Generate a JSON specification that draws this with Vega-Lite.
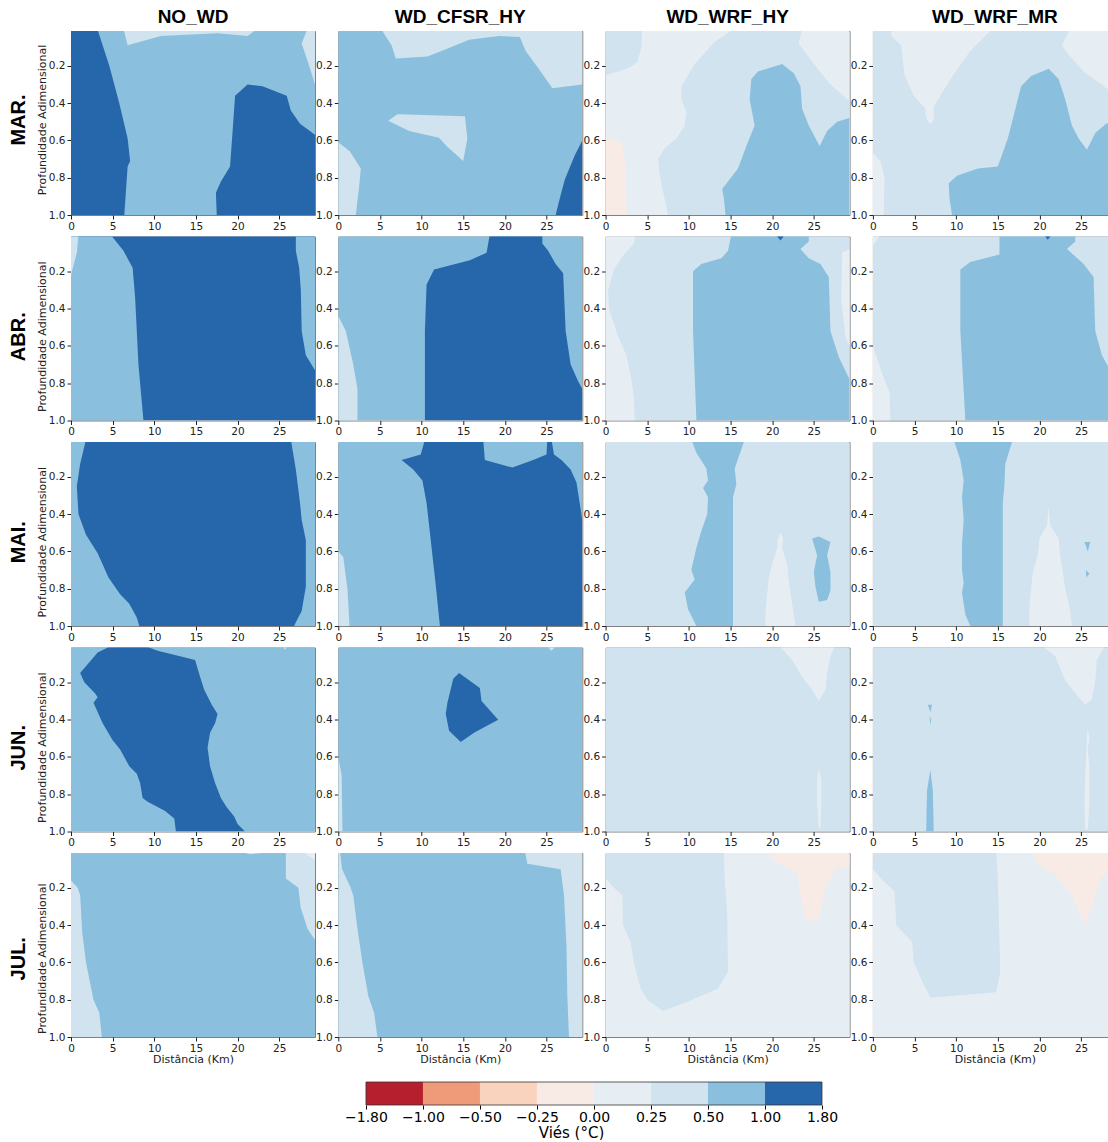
{
"$schema":"https://vega.github.io/schema/vega-lite/v6.json",
"background":"white",
"padding":{"left":8,"top":8,"right":0,"bottom":0},
"config":{"font":"DejaVu Sans","view":{"stroke":"#808080","strokeWidth":1},
"axis":{"grid":false,"domain":false,"tickColor":"#222","tickSize":4,"labelFontSize":10.5,"labelColor":"#222","labelFont":"DejaVu Sans","labelPadding":2,"labelFlush":false,"labelOverlap":false,"titleFont":"DejaVu Sans","titleFontWeight":"normal","titleFontSize":11,"titleColor":"#222","titlePadding":0}},
"datasets":{"d":[
{"m":"MAR.","p":"NO_WD","id":"bg","c":"p50","z":0,"x":0,"y":0},{"m":"MAR.","p":"NO_WD","id":"bg","c":"p50","z":0,"x":29.3,"y":0},{"m":"MAR.","p":"NO_WD","id":"bg","c":"p50","z":0,"x":29.3,"y":1},{"m":"MAR.","p":"NO_WD","id":"bg","c":"p50","z":0,"x":0,"y":1},
{"m":"MAR.","p":"NO_WD","id":"a","c":"p100","z":1,"x":0,"y":0},{"m":"MAR.","p":"NO_WD","id":"a","c":"p100","z":1,"x":3.15,"y":0},{"m":"MAR.","p":"NO_WD","id":"a","c":"p100","z":1,"x":4.6,"y":0.2},{"m":"MAR.","p":"NO_WD","id":"a","c":"p100","z":1,"x":5.8,"y":0.4},{"m":"MAR.","p":"NO_WD","id":"a","c":"p100","z":1,"x":6.8,"y":0.59},{"m":"MAR.","p":"NO_WD","id":"a","c":"p100","z":1,"x":7.1,"y":0.71},{"m":"MAR.","p":"NO_WD","id":"a","c":"p100","z":1,"x":6.8,"y":0.74},{"m":"MAR.","p":"NO_WD","id":"a","c":"p100","z":1,"x":6.4,"y":1},{"m":"MAR.","p":"NO_WD","id":"a","c":"p100","z":1,"x":0,"y":1},
{"m":"MAR.","p":"NO_WD","id":"b","c":"p100","z":1,"x":21.2,"y":0.3},{"m":"MAR.","p":"NO_WD","id":"b","c":"p100","z":1,"x":23.0,"y":0.31},{"m":"MAR.","p":"NO_WD","id":"b","c":"p100","z":1,"x":25.9,"y":0.36},{"m":"MAR.","p":"NO_WD","id":"b","c":"p100","z":1,"x":26.4,"y":0.44},{"m":"MAR.","p":"NO_WD","id":"b","c":"p100","z":1,"x":27.5,"y":0.51},{"m":"MAR.","p":"NO_WD","id":"b","c":"p100","z":1,"x":29.3,"y":0.57},{"m":"MAR.","p":"NO_WD","id":"b","c":"p100","z":1,"x":29.3,"y":1},{"m":"MAR.","p":"NO_WD","id":"b","c":"p100","z":1,"x":17.5,"y":1},{"m":"MAR.","p":"NO_WD","id":"b","c":"p100","z":1,"x":17.4,"y":0.88},{"m":"MAR.","p":"NO_WD","id":"b","c":"p100","z":1,"x":18.0,"y":0.82},{"m":"MAR.","p":"NO_WD","id":"b","c":"p100","z":1,"x":19.1,"y":0.74},{"m":"MAR.","p":"NO_WD","id":"b","c":"p100","z":1,"x":19.5,"y":0.49},{"m":"MAR.","p":"NO_WD","id":"b","c":"p100","z":1,"x":19.7,"y":0.36},
{"m":"MAR.","p":"NO_WD","id":"c","c":"p25","z":1,"x":6.3,"y":0},{"m":"MAR.","p":"NO_WD","id":"c","c":"p25","z":1,"x":22.4,"y":0},{"m":"MAR.","p":"NO_WD","id":"c","c":"p25","z":1,"x":21.2,"y":0.04},{"m":"MAR.","p":"NO_WD","id":"c","c":"p25","z":1,"x":17.6,"y":0.025},{"m":"MAR.","p":"NO_WD","id":"c","c":"p25","z":1,"x":10.8,"y":0.04},{"m":"MAR.","p":"NO_WD","id":"c","c":"p25","z":1,"x":6.8,"y":0.09},
{"m":"MAR.","p":"NO_WD","id":"d","c":"p25","z":1,"x":28.4,"y":0},{"m":"MAR.","p":"NO_WD","id":"d","c":"p25","z":1,"x":29.3,"y":0},{"m":"MAR.","p":"NO_WD","id":"d","c":"p25","z":1,"x":29.3,"y":0.3},{"m":"MAR.","p":"NO_WD","id":"d","c":"p25","z":1,"x":28.6,"y":0.2},{"m":"MAR.","p":"NO_WD","id":"d","c":"p25","z":1,"x":27.7,"y":0.08},

{"m":"MAR.","p":"WD_CFSR_HY","id":"bg","c":"p50","z":0,"x":0,"y":0},{"m":"MAR.","p":"WD_CFSR_HY","id":"bg","c":"p50","z":0,"x":29.3,"y":0},{"m":"MAR.","p":"WD_CFSR_HY","id":"bg","c":"p50","z":0,"x":29.3,"y":1},{"m":"MAR.","p":"WD_CFSR_HY","id":"bg","c":"p50","z":0,"x":0,"y":1},
{"m":"MAR.","p":"WD_CFSR_HY","id":"a","c":"p25","z":1,"x":5.1,"y":0},{"m":"MAR.","p":"WD_CFSR_HY","id":"a","c":"p25","z":1,"x":29.3,"y":0},{"m":"MAR.","p":"WD_CFSR_HY","id":"a","c":"p25","z":1,"x":29.3,"y":0.3},{"m":"MAR.","p":"WD_CFSR_HY","id":"a","c":"p25","z":1,"x":25.7,"y":0.32},{"m":"MAR.","p":"WD_CFSR_HY","id":"a","c":"p25","z":1,"x":24.3,"y":0.23},{"m":"MAR.","p":"WD_CFSR_HY","id":"a","c":"p25","z":1,"x":22.5,"y":0.12},{"m":"MAR.","p":"WD_CFSR_HY","id":"a","c":"p25","z":1,"x":21.8,"y":0.045},{"m":"MAR.","p":"WD_CFSR_HY","id":"a","c":"p25","z":1,"x":19.3,"y":0.04},{"m":"MAR.","p":"WD_CFSR_HY","id":"a","c":"p25","z":1,"x":15.7,"y":0.06},{"m":"MAR.","p":"WD_CFSR_HY","id":"a","c":"p25","z":1,"x":13.0,"y":0.11},{"m":"MAR.","p":"WD_CFSR_HY","id":"a","c":"p25","z":1,"x":10.7,"y":0.15},{"m":"MAR.","p":"WD_CFSR_HY","id":"a","c":"p25","z":1,"x":6.9,"y":0.16},{"m":"MAR.","p":"WD_CFSR_HY","id":"a","c":"p25","z":1,"x":6.4,"y":0.09},
{"m":"MAR.","p":"WD_CFSR_HY","id":"b","c":"p25","z":1,"x":6.0,"y":0.495},{"m":"MAR.","p":"WD_CFSR_HY","id":"b","c":"p25","z":1,"x":7.1,"y":0.46},{"m":"MAR.","p":"WD_CFSR_HY","id":"b","c":"p25","z":1,"x":15.2,"y":0.47},{"m":"MAR.","p":"WD_CFSR_HY","id":"b","c":"p25","z":1,"x":15.5,"y":0.59},{"m":"MAR.","p":"WD_CFSR_HY","id":"b","c":"p25","z":1,"x":15.0,"y":0.71},{"m":"MAR.","p":"WD_CFSR_HY","id":"b","c":"p25","z":1,"x":13.0,"y":0.63},{"m":"MAR.","p":"WD_CFSR_HY","id":"b","c":"p25","z":1,"x":12.1,"y":0.585},{"m":"MAR.","p":"WD_CFSR_HY","id":"b","c":"p25","z":1,"x":8.5,"y":0.55},
{"m":"MAR.","p":"WD_CFSR_HY","id":"c","c":"p25","z":1,"x":0,"y":0.61},{"m":"MAR.","p":"WD_CFSR_HY","id":"c","c":"p25","z":1,"x":1.4,"y":0.66},{"m":"MAR.","p":"WD_CFSR_HY","id":"c","c":"p25","z":1,"x":2.7,"y":0.75},{"m":"MAR.","p":"WD_CFSR_HY","id":"c","c":"p25","z":1,"x":2.5,"y":0.85},{"m":"MAR.","p":"WD_CFSR_HY","id":"c","c":"p25","z":1,"x":2.1,"y":1},{"m":"MAR.","p":"WD_CFSR_HY","id":"c","c":"p25","z":1,"x":0,"y":1},
{"m":"MAR.","p":"WD_CFSR_HY","id":"d","c":"p100","z":1,"x":29.3,"y":0.6},{"m":"MAR.","p":"WD_CFSR_HY","id":"d","c":"p100","z":1,"x":28.4,"y":0.68},{"m":"MAR.","p":"WD_CFSR_HY","id":"d","c":"p100","z":1,"x":27.2,"y":0.81},{"m":"MAR.","p":"WD_CFSR_HY","id":"d","c":"p100","z":1,"x":26.6,"y":0.91},{"m":"MAR.","p":"WD_CFSR_HY","id":"d","c":"p100","z":1,"x":26.1,"y":1},{"m":"MAR.","p":"WD_CFSR_HY","id":"d","c":"p100","z":1,"x":29.3,"y":1},

{"m":"MAR.","p":"WD_WRF_HY","id":"bg","c":"p0","z":0,"x":0,"y":0},{"m":"MAR.","p":"WD_WRF_HY","id":"bg","c":"p0","z":0,"x":29.3,"y":0},{"m":"MAR.","p":"WD_WRF_HY","id":"bg","c":"p0","z":0,"x":29.3,"y":1},{"m":"MAR.","p":"WD_WRF_HY","id":"bg","c":"p0","z":0,"x":0,"y":1},
{"m":"MAR.","p":"WD_WRF_HY","id":"a","c":"p25","z":1,"x":0,"y":0},{"m":"MAR.","p":"WD_WRF_HY","id":"a","c":"p25","z":1,"x":4.4,"y":0},{"m":"MAR.","p":"WD_WRF_HY","id":"a","c":"p25","z":1,"x":4.3,"y":0.1},{"m":"MAR.","p":"WD_WRF_HY","id":"a","c":"p25","z":1,"x":3.8,"y":0.18},{"m":"MAR.","p":"WD_WRF_HY","id":"a","c":"p25","z":1,"x":2.8,"y":0.21},{"m":"MAR.","p":"WD_WRF_HY","id":"a","c":"p25","z":1,"x":1.5,"y":0.23},{"m":"MAR.","p":"WD_WRF_HY","id":"a","c":"p25","z":1,"x":0,"y":0.25},
{"m":"MAR.","p":"WD_WRF_HY","id":"b","c":"p25","z":1,"x":15.5,"y":0},{"m":"MAR.","p":"WD_WRF_HY","id":"b","c":"p25","z":1,"x":23.6,"y":0},{"m":"MAR.","p":"WD_WRF_HY","id":"b","c":"p25","z":1,"x":23.2,"y":0.08},{"m":"MAR.","p":"WD_WRF_HY","id":"b","c":"p25","z":1,"x":25.2,"y":0.2},{"m":"MAR.","p":"WD_WRF_HY","id":"b","c":"p25","z":1,"x":26.8,"y":0.29},{"m":"MAR.","p":"WD_WRF_HY","id":"b","c":"p25","z":1,"x":29.3,"y":0.39},{"m":"MAR.","p":"WD_WRF_HY","id":"b","c":"p25","z":1,"x":29.3,"y":1},{"m":"MAR.","p":"WD_WRF_HY","id":"b","c":"p25","z":1,"x":7.5,"y":1},{"m":"MAR.","p":"WD_WRF_HY","id":"b","c":"p25","z":1,"x":6.5,"y":0.79},{"m":"MAR.","p":"WD_WRF_HY","id":"b","c":"p25","z":1,"x":6.3,"y":0.7},{"m":"MAR.","p":"WD_WRF_HY","id":"b","c":"p25","z":1,"x":7.1,"y":0.64},{"m":"MAR.","p":"WD_WRF_HY","id":"b","c":"p25","z":1,"x":8.5,"y":0.59},{"m":"MAR.","p":"WD_WRF_HY","id":"b","c":"p25","z":1,"x":9.5,"y":0.52},{"m":"MAR.","p":"WD_WRF_HY","id":"b","c":"p25","z":1,"x":9.7,"y":0.45},{"m":"MAR.","p":"WD_WRF_HY","id":"b","c":"p25","z":1,"x":9.1,"y":0.38},{"m":"MAR.","p":"WD_WRF_HY","id":"b","c":"p25","z":1,"x":9.1,"y":0.31},{"m":"MAR.","p":"WD_WRF_HY","id":"b","c":"p25","z":1,"x":10.7,"y":0.19},{"m":"MAR.","p":"WD_WRF_HY","id":"b","c":"p25","z":1,"x":13.1,"y":0.07},
{"m":"MAR.","p":"WD_WRF_HY","id":"c","c":"n25","z":1,"x":0,"y":0.58},{"m":"MAR.","p":"WD_WRF_HY","id":"c","c":"n25","z":1,"x":1.0,"y":0.59},{"m":"MAR.","p":"WD_WRF_HY","id":"c","c":"n25","z":1,"x":1.9,"y":0.62},{"m":"MAR.","p":"WD_WRF_HY","id":"c","c":"n25","z":1,"x":2.4,"y":0.7},{"m":"MAR.","p":"WD_WRF_HY","id":"c","c":"n25","z":1,"x":2.5,"y":1},{"m":"MAR.","p":"WD_WRF_HY","id":"c","c":"n25","z":1,"x":0,"y":1},
{"m":"MAR.","p":"WD_WRF_HY","id":"d","c":"p50","z":2,"x":21.2,"y":0.19},{"m":"MAR.","p":"WD_WRF_HY","id":"d","c":"p50","z":2,"x":22.6,"y":0.24},{"m":"MAR.","p":"WD_WRF_HY","id":"d","c":"p50","z":2,"x":23.4,"y":0.31},{"m":"MAR.","p":"WD_WRF_HY","id":"d","c":"p50","z":2,"x":23.6,"y":0.43},{"m":"MAR.","p":"WD_WRF_HY","id":"d","c":"p50","z":2,"x":24.4,"y":0.52},{"m":"MAR.","p":"WD_WRF_HY","id":"d","c":"p50","z":2,"x":25.7,"y":0.63},{"m":"MAR.","p":"WD_WRF_HY","id":"d","c":"p50","z":2,"x":26.6,"y":0.55},{"m":"MAR.","p":"WD_WRF_HY","id":"d","c":"p50","z":2,"x":27.8,"y":0.5},{"m":"MAR.","p":"WD_WRF_HY","id":"d","c":"p50","z":2,"x":29.3,"y":0.48},{"m":"MAR.","p":"WD_WRF_HY","id":"d","c":"p50","z":2,"x":29.3,"y":1},{"m":"MAR.","p":"WD_WRF_HY","id":"d","c":"p50","z":2,"x":14.4,"y":1},{"m":"MAR.","p":"WD_WRF_HY","id":"d","c":"p50","z":2,"x":14.2,"y":0.91},{"m":"MAR.","p":"WD_WRF_HY","id":"d","c":"p50","z":2,"x":14.0,"y":0.86},{"m":"MAR.","p":"WD_WRF_HY","id":"d","c":"p50","z":2,"x":14.7,"y":0.82},{"m":"MAR.","p":"WD_WRF_HY","id":"d","c":"p50","z":2,"x":15.9,"y":0.75},{"m":"MAR.","p":"WD_WRF_HY","id":"d","c":"p50","z":2,"x":16.9,"y":0.63},{"m":"MAR.","p":"WD_WRF_HY","id":"d","c":"p50","z":2,"x":17.9,"y":0.52},{"m":"MAR.","p":"WD_WRF_HY","id":"d","c":"p50","z":2,"x":17.3,"y":0.38},{"m":"MAR.","p":"WD_WRF_HY","id":"d","c":"p50","z":2,"x":17.5,"y":0.27},{"m":"MAR.","p":"WD_WRF_HY","id":"d","c":"p50","z":2,"x":18.3,"y":0.23},

{"m":"MAR.","p":"WD_WRF_MR","id":"bg","c":"p25","z":0,"x":0,"y":0},{"m":"MAR.","p":"WD_WRF_MR","id":"bg","c":"p25","z":0,"x":29.3,"y":0},{"m":"MAR.","p":"WD_WRF_MR","id":"bg","c":"p25","z":0,"x":29.3,"y":1},{"m":"MAR.","p":"WD_WRF_MR","id":"bg","c":"p25","z":0,"x":0,"y":1},
{"m":"MAR.","p":"WD_WRF_MR","id":"a","c":"p0","z":1,"x":2.2,"y":0},{"m":"MAR.","p":"WD_WRF_MR","id":"a","c":"p0","z":1,"x":14.4,"y":0},{"m":"MAR.","p":"WD_WRF_MR","id":"a","c":"p0","z":1,"x":11.7,"y":0.12},{"m":"MAR.","p":"WD_WRF_MR","id":"a","c":"p0","z":1,"x":10.1,"y":0.22},{"m":"MAR.","p":"WD_WRF_MR","id":"a","c":"p0","z":1,"x":8.5,"y":0.33},{"m":"MAR.","p":"WD_WRF_MR","id":"a","c":"p0","z":1,"x":7.3,"y":0.42},{"m":"MAR.","p":"WD_WRF_MR","id":"a","c":"p0","z":1,"x":7.3,"y":0.49},{"m":"MAR.","p":"WD_WRF_MR","id":"a","c":"p0","z":1,"x":6.9,"y":0.51},{"m":"MAR.","p":"WD_WRF_MR","id":"a","c":"p0","z":1,"x":6.6,"y":0.5},{"m":"MAR.","p":"WD_WRF_MR","id":"a","c":"p0","z":1,"x":6.3,"y":0.46},{"m":"MAR.","p":"WD_WRF_MR","id":"a","c":"p0","z":1,"x":6.3,"y":0.43},{"m":"MAR.","p":"WD_WRF_MR","id":"a","c":"p0","z":1,"x":4.9,"y":0.36},{"m":"MAR.","p":"WD_WRF_MR","id":"a","c":"p0","z":1,"x":3.8,"y":0.25},{"m":"MAR.","p":"WD_WRF_MR","id":"a","c":"p0","z":1,"x":3.4,"y":0.09},{"m":"MAR.","p":"WD_WRF_MR","id":"a","c":"p0","z":1,"x":2.2,"y":0.04},
{"m":"MAR.","p":"WD_WRF_MR","id":"b","c":"p0","z":1,"x":23.6,"y":0},{"m":"MAR.","p":"WD_WRF_MR","id":"b","c":"p0","z":1,"x":29.3,"y":0},{"m":"MAR.","p":"WD_WRF_MR","id":"b","c":"p0","z":1,"x":29.3,"y":0.37},{"m":"MAR.","p":"WD_WRF_MR","id":"b","c":"p0","z":1,"x":27.5,"y":0.3},{"m":"MAR.","p":"WD_WRF_MR","id":"b","c":"p0","z":1,"x":25.5,"y":0.24},{"m":"MAR.","p":"WD_WRF_MR","id":"b","c":"p0","z":1,"x":23.5,"y":0.14},{"m":"MAR.","p":"WD_WRF_MR","id":"b","c":"p0","z":1,"x":22.7,"y":0.09},{"m":"MAR.","p":"WD_WRF_MR","id":"b","c":"p0","z":1,"x":23.4,"y":0.03},
{"m":"MAR.","p":"WD_WRF_MR","id":"c","c":"p0","z":1,"x":0,"y":0.67},{"m":"MAR.","p":"WD_WRF_MR","id":"c","c":"p0","z":1,"x":0.9,"y":0.71},{"m":"MAR.","p":"WD_WRF_MR","id":"c","c":"p0","z":1,"x":1.4,"y":0.8},{"m":"MAR.","p":"WD_WRF_MR","id":"c","c":"p0","z":1,"x":1.3,"y":1},{"m":"MAR.","p":"WD_WRF_MR","id":"c","c":"p0","z":1,"x":0,"y":1},
{"m":"MAR.","p":"WD_WRF_MR","id":"d","c":"p50","z":1,"x":21.1,"y":0.215},{"m":"MAR.","p":"WD_WRF_MR","id":"d","c":"p50","z":1,"x":22.3,"y":0.27},{"m":"MAR.","p":"WD_WRF_MR","id":"d","c":"p50","z":1,"x":23.1,"y":0.38},{"m":"MAR.","p":"WD_WRF_MR","id":"d","c":"p50","z":1,"x":23.9,"y":0.52},{"m":"MAR.","p":"WD_WRF_MR","id":"d","c":"p50","z":1,"x":24.7,"y":0.59},{"m":"MAR.","p":"WD_WRF_MR","id":"d","c":"p50","z":1,"x":25.7,"y":0.65},{"m":"MAR.","p":"WD_WRF_MR","id":"d","c":"p50","z":1,"x":26.7,"y":0.56},{"m":"MAR.","p":"WD_WRF_MR","id":"d","c":"p50","z":1,"x":28.0,"y":0.51},{"m":"MAR.","p":"WD_WRF_MR","id":"d","c":"p50","z":1,"x":29.3,"y":0.49},{"m":"MAR.","p":"WD_WRF_MR","id":"d","c":"p50","z":1,"x":29.3,"y":1},{"m":"MAR.","p":"WD_WRF_MR","id":"d","c":"p50","z":1,"x":9.5,"y":1},{"m":"MAR.","p":"WD_WRF_MR","id":"d","c":"p50","z":1,"x":9.2,"y":0.91},{"m":"MAR.","p":"WD_WRF_MR","id":"d","c":"p50","z":1,"x":9.1,"y":0.83},{"m":"MAR.","p":"WD_WRF_MR","id":"d","c":"p50","z":1,"x":10.1,"y":0.79},{"m":"MAR.","p":"WD_WRF_MR","id":"d","c":"p50","z":1,"x":12.6,"y":0.75},{"m":"MAR.","p":"WD_WRF_MR","id":"d","c":"p50","z":1,"x":15.0,"y":0.74},{"m":"MAR.","p":"WD_WRF_MR","id":"d","c":"p50","z":1,"x":16.2,"y":0.59},{"m":"MAR.","p":"WD_WRF_MR","id":"d","c":"p50","z":1,"x":17.0,"y":0.45},{"m":"MAR.","p":"WD_WRF_MR","id":"d","c":"p50","z":1,"x":17.8,"y":0.31},{"m":"MAR.","p":"WD_WRF_MR","id":"d","c":"p50","z":1,"x":19.0,"y":0.255},

{"m":"ABR.","p":"NO_WD","id":"bg","c":"p100","z":0,"x":0,"y":0},{"m":"ABR.","p":"NO_WD","id":"bg","c":"p100","z":0,"x":29.3,"y":0},{"m":"ABR.","p":"NO_WD","id":"bg","c":"p100","z":0,"x":29.3,"y":1},{"m":"ABR.","p":"NO_WD","id":"bg","c":"p100","z":0,"x":0,"y":1},
{"m":"ABR.","p":"NO_WD","id":"a","c":"p50","z":1,"x":0,"y":0},{"m":"ABR.","p":"NO_WD","id":"a","c":"p50","z":1,"x":4.7,"y":0},{"m":"ABR.","p":"NO_WD","id":"a","c":"p50","z":1,"x":6.3,"y":0.09},{"m":"ABR.","p":"NO_WD","id":"a","c":"p50","z":1,"x":7.4,"y":0.18},{"m":"ABR.","p":"NO_WD","id":"a","c":"p50","z":1,"x":7.7,"y":0.34},{"m":"ABR.","p":"NO_WD","id":"a","c":"p50","z":1,"x":8.1,"y":0.7},{"m":"ABR.","p":"NO_WD","id":"a","c":"p50","z":1,"x":8.7,"y":1},{"m":"ABR.","p":"NO_WD","id":"a","c":"p50","z":1,"x":0,"y":1},
{"m":"ABR.","p":"NO_WD","id":"b","c":"p50","z":1,"x":27.0,"y":0},{"m":"ABR.","p":"NO_WD","id":"b","c":"p50","z":1,"x":29.3,"y":0},{"m":"ABR.","p":"NO_WD","id":"b","c":"p50","z":1,"x":29.3,"y":0.73},{"m":"ABR.","p":"NO_WD","id":"b","c":"p50","z":1,"x":28.2,"y":0.65},{"m":"ABR.","p":"NO_WD","id":"b","c":"p50","z":1,"x":27.7,"y":0.52},{"m":"ABR.","p":"NO_WD","id":"b","c":"p50","z":1,"x":27.6,"y":0.3},{"m":"ABR.","p":"NO_WD","id":"b","c":"p50","z":1,"x":27.4,"y":0.18},{"m":"ABR.","p":"NO_WD","id":"b","c":"p50","z":1,"x":27.0,"y":0.09},
{"m":"ABR.","p":"NO_WD","id":"c","c":"p25","z":2,"x":0,"y":0},{"m":"ABR.","p":"NO_WD","id":"c","c":"p25","z":2,"x":0.9,"y":0},{"m":"ABR.","p":"NO_WD","id":"c","c":"p25","z":2,"x":0.7,"y":0.1},{"m":"ABR.","p":"NO_WD","id":"c","c":"p25","z":2,"x":0,"y":0.22},

{"m":"ABR.","p":"WD_CFSR_HY","id":"bg","c":"p50","z":0,"x":0,"y":0},{"m":"ABR.","p":"WD_CFSR_HY","id":"bg","c":"p50","z":0,"x":29.3,"y":0},{"m":"ABR.","p":"WD_CFSR_HY","id":"bg","c":"p50","z":0,"x":29.3,"y":1},{"m":"ABR.","p":"WD_CFSR_HY","id":"bg","c":"p50","z":0,"x":0,"y":1},
{"m":"ABR.","p":"WD_CFSR_HY","id":"a","c":"p100","z":1,"x":18.2,"y":0},{"m":"ABR.","p":"WD_CFSR_HY","id":"a","c":"p100","z":1,"x":24.5,"y":0},{"m":"ABR.","p":"WD_CFSR_HY","id":"a","c":"p100","z":1,"x":24.5,"y":0.05},{"m":"ABR.","p":"WD_CFSR_HY","id":"a","c":"p100","z":1,"x":25.2,"y":0.09},{"m":"ABR.","p":"WD_CFSR_HY","id":"a","c":"p100","z":1,"x":26.1,"y":0.16},{"m":"ABR.","p":"WD_CFSR_HY","id":"a","c":"p100","z":1,"x":27.0,"y":0.21},{"m":"ABR.","p":"WD_CFSR_HY","id":"a","c":"p100","z":1,"x":27.3,"y":0.52},{"m":"ABR.","p":"WD_CFSR_HY","id":"a","c":"p100","z":1,"x":27.9,"y":0.7},{"m":"ABR.","p":"WD_CFSR_HY","id":"a","c":"p100","z":1,"x":28.8,"y":0.79},{"m":"ABR.","p":"WD_CFSR_HY","id":"a","c":"p100","z":1,"x":29.3,"y":0.83},{"m":"ABR.","p":"WD_CFSR_HY","id":"a","c":"p100","z":1,"x":29.3,"y":1},{"m":"ABR.","p":"WD_CFSR_HY","id":"a","c":"p100","z":1,"x":10.4,"y":1},{"m":"ABR.","p":"WD_CFSR_HY","id":"a","c":"p100","z":1,"x":10.4,"y":0.52},{"m":"ABR.","p":"WD_CFSR_HY","id":"a","c":"p100","z":1,"x":10.6,"y":0.27},{"m":"ABR.","p":"WD_CFSR_HY","id":"a","c":"p100","z":1,"x":11.5,"y":0.19},{"m":"ABR.","p":"WD_CFSR_HY","id":"a","c":"p100","z":1,"x":15.8,"y":0.14},{"m":"ABR.","p":"WD_CFSR_HY","id":"a","c":"p100","z":1,"x":17.8,"y":0.1},
{"m":"ABR.","p":"WD_CFSR_HY","id":"b","c":"p25","z":1,"x":0,"y":0.44},{"m":"ABR.","p":"WD_CFSR_HY","id":"b","c":"p25","z":1,"x":0.9,"y":0.52},{"m":"ABR.","p":"WD_CFSR_HY","id":"b","c":"p25","z":1,"x":1.8,"y":0.7},{"m":"ABR.","p":"WD_CFSR_HY","id":"b","c":"p25","z":1,"x":2.3,"y":0.83},{"m":"ABR.","p":"WD_CFSR_HY","id":"b","c":"p25","z":1,"x":2.3,"y":1},{"m":"ABR.","p":"WD_CFSR_HY","id":"b","c":"p25","z":1,"x":0,"y":1},

{"m":"ABR.","p":"WD_WRF_HY","id":"bg","c":"p25","z":0,"x":0,"y":0},{"m":"ABR.","p":"WD_WRF_HY","id":"bg","c":"p25","z":0,"x":29.3,"y":0},{"m":"ABR.","p":"WD_WRF_HY","id":"bg","c":"p25","z":0,"x":29.3,"y":1},{"m":"ABR.","p":"WD_WRF_HY","id":"bg","c":"p25","z":0,"x":0,"y":1},
{"m":"ABR.","p":"WD_WRF_HY","id":"a","c":"p0","z":1,"x":0,"y":0},{"m":"ABR.","p":"WD_WRF_HY","id":"a","c":"p0","z":1,"x":3.6,"y":0},{"m":"ABR.","p":"WD_WRF_HY","id":"a","c":"p0","z":1,"x":3.4,"y":0.05},{"m":"ABR.","p":"WD_WRF_HY","id":"a","c":"p0","z":1,"x":2.2,"y":0.11},{"m":"ABR.","p":"WD_WRF_HY","id":"a","c":"p0","z":1,"x":1.0,"y":0.19},{"m":"ABR.","p":"WD_WRF_HY","id":"a","c":"p0","z":1,"x":0.3,"y":0.3},{"m":"ABR.","p":"WD_WRF_HY","id":"a","c":"p0","z":1,"x":0.4,"y":0.4},{"m":"ABR.","p":"WD_WRF_HY","id":"a","c":"p0","z":1,"x":1.5,"y":0.55},{"m":"ABR.","p":"WD_WRF_HY","id":"a","c":"p0","z":1,"x":2.5,"y":0.65},{"m":"ABR.","p":"WD_WRF_HY","id":"a","c":"p0","z":1,"x":3.1,"y":0.78},{"m":"ABR.","p":"WD_WRF_HY","id":"a","c":"p0","z":1,"x":3.4,"y":0.88},{"m":"ABR.","p":"WD_WRF_HY","id":"a","c":"p0","z":1,"x":3.5,"y":1},{"m":"ABR.","p":"WD_WRF_HY","id":"a","c":"p0","z":1,"x":0,"y":1},
{"m":"ABR.","p":"WD_WRF_HY","id":"b","c":"p50","z":1,"x":15.1,"y":0},{"m":"ABR.","p":"WD_WRF_HY","id":"b","c":"p50","z":1,"x":24.4,"y":0},{"m":"ABR.","p":"WD_WRF_HY","id":"b","c":"p50","z":1,"x":24.4,"y":0.04},{"m":"ABR.","p":"WD_WRF_HY","id":"b","c":"p50","z":1,"x":23.4,"y":0.08},{"m":"ABR.","p":"WD_WRF_HY","id":"b","c":"p50","z":1,"x":24.4,"y":0.13},{"m":"ABR.","p":"WD_WRF_HY","id":"b","c":"p50","z":1,"x":25.8,"y":0.16},{"m":"ABR.","p":"WD_WRF_HY","id":"b","c":"p50","z":1,"x":26.8,"y":0.23},{"m":"ABR.","p":"WD_WRF_HY","id":"b","c":"p50","z":1,"x":27.0,"y":0.52},{"m":"ABR.","p":"WD_WRF_HY","id":"b","c":"p50","z":1,"x":28.0,"y":0.66},{"m":"ABR.","p":"WD_WRF_HY","id":"b","c":"p50","z":1,"x":29.3,"y":0.78},{"m":"ABR.","p":"WD_WRF_HY","id":"b","c":"p50","z":1,"x":29.3,"y":1},{"m":"ABR.","p":"WD_WRF_HY","id":"b","c":"p50","z":1,"x":10.9,"y":1},{"m":"ABR.","p":"WD_WRF_HY","id":"b","c":"p50","z":1,"x":10.5,"y":0.52},{"m":"ABR.","p":"WD_WRF_HY","id":"b","c":"p50","z":1,"x":10.5,"y":0.2},{"m":"ABR.","p":"WD_WRF_HY","id":"b","c":"p50","z":1,"x":11.5,"y":0.16},{"m":"ABR.","p":"WD_WRF_HY","id":"b","c":"p50","z":1,"x":13.9,"y":0.13},{"m":"ABR.","p":"WD_WRF_HY","id":"b","c":"p50","z":1,"x":14.7,"y":0.09},
{"m":"ABR.","p":"WD_WRF_HY","id":"c","c":"p0","z":1,"x":29.3,"y":0.08},{"m":"ABR.","p":"WD_WRF_HY","id":"c","c":"p0","z":1,"x":28.4,"y":0.1},{"m":"ABR.","p":"WD_WRF_HY","id":"c","c":"p0","z":1,"x":28.3,"y":0.35},{"m":"ABR.","p":"WD_WRF_HY","id":"c","c":"p0","z":1,"x":28.8,"y":0.55},{"m":"ABR.","p":"WD_WRF_HY","id":"c","c":"p0","z":1,"x":29.3,"y":0.6},
{"m":"ABR.","p":"WD_WRF_HY","id":"d","c":"p100","z":2,"x":20.4,"y":0},{"m":"ABR.","p":"WD_WRF_HY","id":"d","c":"p100","z":2,"x":21.6,"y":0},{"m":"ABR.","p":"WD_WRF_HY","id":"d","c":"p100","z":2,"x":21.0,"y":0.035},

{"m":"ABR.","p":"WD_WRF_MR","id":"bg","c":"p25","z":0,"x":0,"y":0},{"m":"ABR.","p":"WD_WRF_MR","id":"bg","c":"p25","z":0,"x":29.3,"y":0},{"m":"ABR.","p":"WD_WRF_MR","id":"bg","c":"p25","z":0,"x":29.3,"y":1},{"m":"ABR.","p":"WD_WRF_MR","id":"bg","c":"p25","z":0,"x":0,"y":1},
{"m":"ABR.","p":"WD_WRF_MR","id":"a","c":"p0","z":1,"x":0,"y":0},{"m":"ABR.","p":"WD_WRF_MR","id":"a","c":"p0","z":1,"x":1.0,"y":0},{"m":"ABR.","p":"WD_WRF_MR","id":"a","c":"p0","z":1,"x":0,"y":0.06},
{"m":"ABR.","p":"WD_WRF_MR","id":"b","c":"p0","z":1,"x":0,"y":0.6},{"m":"ABR.","p":"WD_WRF_MR","id":"b","c":"p0","z":1,"x":0.6,"y":0.68},{"m":"ABR.","p":"WD_WRF_MR","id":"b","c":"p0","z":1,"x":1.2,"y":0.76},{"m":"ABR.","p":"WD_WRF_MR","id":"b","c":"p0","z":1,"x":2.0,"y":0.85},{"m":"ABR.","p":"WD_WRF_MR","id":"b","c":"p0","z":1,"x":2.1,"y":1},{"m":"ABR.","p":"WD_WRF_MR","id":"b","c":"p0","z":1,"x":0,"y":1},
{"m":"ABR.","p":"WD_WRF_MR","id":"c","c":"p50","z":1,"x":15.2,"y":0},{"m":"ABR.","p":"WD_WRF_MR","id":"c","c":"p50","z":1,"x":24.3,"y":0},{"m":"ABR.","p":"WD_WRF_MR","id":"c","c":"p50","z":1,"x":24.3,"y":0.04},{"m":"ABR.","p":"WD_WRF_MR","id":"c","c":"p50","z":1,"x":23.3,"y":0.08},{"m":"ABR.","p":"WD_WRF_MR","id":"c","c":"p50","z":1,"x":25.3,"y":0.16},{"m":"ABR.","p":"WD_WRF_MR","id":"c","c":"p50","z":1,"x":26.5,"y":0.23},{"m":"ABR.","p":"WD_WRF_MR","id":"c","c":"p50","z":1,"x":26.7,"y":0.52},{"m":"ABR.","p":"WD_WRF_MR","id":"c","c":"p50","z":1,"x":27.5,"y":0.65},{"m":"ABR.","p":"WD_WRF_MR","id":"c","c":"p50","z":1,"x":28.5,"y":0.73},{"m":"ABR.","p":"WD_WRF_MR","id":"c","c":"p50","z":1,"x":29.3,"y":0.78},{"m":"ABR.","p":"WD_WRF_MR","id":"c","c":"p50","z":1,"x":29.3,"y":1},{"m":"ABR.","p":"WD_WRF_MR","id":"c","c":"p50","z":1,"x":11.1,"y":1},{"m":"ABR.","p":"WD_WRF_MR","id":"c","c":"p50","z":1,"x":10.5,"y":0.52},{"m":"ABR.","p":"WD_WRF_MR","id":"c","c":"p50","z":1,"x":10.5,"y":0.19},{"m":"ABR.","p":"WD_WRF_MR","id":"c","c":"p50","z":1,"x":11.7,"y":0.15},{"m":"ABR.","p":"WD_WRF_MR","id":"c","c":"p50","z":1,"x":15.2,"y":0.11},
{"m":"ABR.","p":"WD_WRF_MR","id":"d","c":"p0","z":1,"x":29.3,"y":0.05},{"m":"ABR.","p":"WD_WRF_MR","id":"d","c":"p0","z":1,"x":28.4,"y":0.07},{"m":"ABR.","p":"WD_WRF_MR","id":"d","c":"p0","z":1,"x":28.3,"y":0.35},{"m":"ABR.","p":"WD_WRF_MR","id":"d","c":"p0","z":1,"x":28.7,"y":0.5},{"m":"ABR.","p":"WD_WRF_MR","id":"d","c":"p0","z":1,"x":29.3,"y":0.58},
{"m":"ABR.","p":"WD_WRF_MR","id":"e","c":"p100","z":2,"x":20.5,"y":0},{"m":"ABR.","p":"WD_WRF_MR","id":"e","c":"p100","z":2,"x":21.5,"y":0},{"m":"ABR.","p":"WD_WRF_MR","id":"e","c":"p100","z":2,"x":21.0,"y":0.03},

{"m":"MAI.","p":"NO_WD","id":"bg","c":"p50","z":0,"x":0,"y":0},{"m":"MAI.","p":"NO_WD","id":"bg","c":"p50","z":0,"x":29.3,"y":0},{"m":"MAI.","p":"NO_WD","id":"bg","c":"p50","z":0,"x":29.3,"y":1},{"m":"MAI.","p":"NO_WD","id":"bg","c":"p50","z":0,"x":0,"y":1},
{"m":"MAI.","p":"NO_WD","id":"a","c":"p100","z":1,"x":1.8,"y":0},{"m":"MAI.","p":"NO_WD","id":"a","c":"p100","z":1,"x":26.4,"y":0},{"m":"MAI.","p":"NO_WD","id":"a","c":"p100","z":1,"x":27.0,"y":0.16},{"m":"MAI.","p":"NO_WD","id":"a","c":"p100","z":1,"x":27.5,"y":0.34},{"m":"MAI.","p":"NO_WD","id":"a","c":"p100","z":1,"x":27.7,"y":0.43},{"m":"MAI.","p":"NO_WD","id":"a","c":"p100","z":1,"x":28.2,"y":0.54},{"m":"MAI.","p":"NO_WD","id":"a","c":"p100","z":1,"x":28.2,"y":0.79},{"m":"MAI.","p":"NO_WD","id":"a","c":"p100","z":1,"x":27.7,"y":0.92},{"m":"MAI.","p":"NO_WD","id":"a","c":"p100","z":1,"x":27.0,"y":0.98},{"m":"MAI.","p":"NO_WD","id":"a","c":"p100","z":1,"x":26.8,"y":1},{"m":"MAI.","p":"NO_WD","id":"a","c":"p100","z":1,"x":8.2,"y":1},{"m":"MAI.","p":"NO_WD","id":"a","c":"p100","z":1,"x":7.9,"y":0.955},{"m":"MAI.","p":"NO_WD","id":"a","c":"p100","z":1,"x":7.0,"y":0.88},{"m":"MAI.","p":"NO_WD","id":"a","c":"p100","z":1,"x":5.9,"y":0.83},{"m":"MAI.","p":"NO_WD","id":"a","c":"p100","z":1,"x":4.5,"y":0.74},{"m":"MAI.","p":"NO_WD","id":"a","c":"p100","z":1,"x":3.2,"y":0.61},{"m":"MAI.","p":"NO_WD","id":"a","c":"p100","z":1,"x":1.8,"y":0.51},{"m":"MAI.","p":"NO_WD","id":"a","c":"p100","z":1,"x":0.9,"y":0.4},{"m":"MAI.","p":"NO_WD","id":"a","c":"p100","z":1,"x":0.7,"y":0.25},{"m":"MAI.","p":"NO_WD","id":"a","c":"p100","z":1,"x":1.1,"y":0.13},

{"m":"MAI.","p":"WD_CFSR_HY","id":"bg","c":"p50","z":0,"x":0,"y":0},{"m":"MAI.","p":"WD_CFSR_HY","id":"bg","c":"p50","z":0,"x":29.3,"y":0},{"m":"MAI.","p":"WD_CFSR_HY","id":"bg","c":"p50","z":0,"x":29.3,"y":1},{"m":"MAI.","p":"WD_CFSR_HY","id":"bg","c":"p50","z":0,"x":0,"y":1},
{"m":"MAI.","p":"WD_CFSR_HY","id":"a","c":"p100","z":1,"x":7.6,"y":0.11},{"m":"MAI.","p":"WD_CFSR_HY","id":"a","c":"p100","z":1,"x":9.9,"y":0.08},{"m":"MAI.","p":"WD_CFSR_HY","id":"a","c":"p100","z":1,"x":10.4,"y":0},{"m":"MAI.","p":"WD_CFSR_HY","id":"a","c":"p100","z":1,"x":17.4,"y":0},{"m":"MAI.","p":"WD_CFSR_HY","id":"a","c":"p100","z":1,"x":17.6,"y":0.11},{"m":"MAI.","p":"WD_CFSR_HY","id":"a","c":"p100","z":1,"x":20.9,"y":0.15},{"m":"MAI.","p":"WD_CFSR_HY","id":"a","c":"p100","z":1,"x":23.4,"y":0.11},{"m":"MAI.","p":"WD_CFSR_HY","id":"a","c":"p100","z":1,"x":25.0,"y":0.08},{"m":"MAI.","p":"WD_CFSR_HY","id":"a","c":"p100","z":1,"x":25.1,"y":0},{"m":"MAI.","p":"WD_CFSR_HY","id":"a","c":"p100","z":1,"x":25.6,"y":0},{"m":"MAI.","p":"WD_CFSR_HY","id":"a","c":"p100","z":1,"x":25.9,"y":0.08},{"m":"MAI.","p":"WD_CFSR_HY","id":"a","c":"p100","z":1,"x":26.8,"y":0.11},{"m":"MAI.","p":"WD_CFSR_HY","id":"a","c":"p100","z":1,"x":27.9,"y":0.16},{"m":"MAI.","p":"WD_CFSR_HY","id":"a","c":"p100","z":1,"x":28.6,"y":0.23},{"m":"MAI.","p":"WD_CFSR_HY","id":"a","c":"p100","z":1,"x":29.3,"y":0.43},{"m":"MAI.","p":"WD_CFSR_HY","id":"a","c":"p100","z":1,"x":29.3,"y":1},{"m":"MAI.","p":"WD_CFSR_HY","id":"a","c":"p100","z":1,"x":12.2,"y":1},{"m":"MAI.","p":"WD_CFSR_HY","id":"a","c":"p100","z":1,"x":11.7,"y":0.78},{"m":"MAI.","p":"WD_CFSR_HY","id":"a","c":"p100","z":1,"x":10.6,"y":0.34},{"m":"MAI.","p":"WD_CFSR_HY","id":"a","c":"p100","z":1,"x":10.1,"y":0.22},{"m":"MAI.","p":"WD_CFSR_HY","id":"a","c":"p100","z":1,"x":9.0,"y":0.16},
{"m":"MAI.","p":"WD_CFSR_HY","id":"b","c":"p25","z":1,"x":0,"y":0.6},{"m":"MAI.","p":"WD_CFSR_HY","id":"b","c":"p25","z":1,"x":0.6,"y":0.63},{"m":"MAI.","p":"WD_CFSR_HY","id":"b","c":"p25","z":1,"x":0.8,"y":0.7},{"m":"MAI.","p":"WD_CFSR_HY","id":"b","c":"p25","z":1,"x":1.1,"y":0.8},{"m":"MAI.","p":"WD_CFSR_HY","id":"b","c":"p25","z":1,"x":1.35,"y":1},{"m":"MAI.","p":"WD_CFSR_HY","id":"b","c":"p25","z":1,"x":0,"y":1},

{"m":"MAI.","p":"WD_WRF_HY","id":"bg","c":"p25","z":0,"x":0,"y":0},{"m":"MAI.","p":"WD_WRF_HY","id":"bg","c":"p25","z":0,"x":29.3,"y":0},{"m":"MAI.","p":"WD_WRF_HY","id":"bg","c":"p25","z":0,"x":29.3,"y":1},{"m":"MAI.","p":"WD_WRF_HY","id":"bg","c":"p25","z":0,"x":0,"y":1},
{"m":"MAI.","p":"WD_WRF_HY","id":"a","c":"p50","z":1,"x":10.3,"y":0},{"m":"MAI.","p":"WD_WRF_HY","id":"a","c":"p50","z":1,"x":16.7,"y":0},{"m":"MAI.","p":"WD_WRF_HY","id":"a","c":"p50","z":1,"x":15.5,"y":0.155},{"m":"MAI.","p":"WD_WRF_HY","id":"a","c":"p50","z":1,"x":15.7,"y":0.24},{"m":"MAI.","p":"WD_WRF_HY","id":"a","c":"p50","z":1,"x":15.3,"y":0.31},{"m":"MAI.","p":"WD_WRF_HY","id":"a","c":"p50","z":1,"x":15.3,"y":1},{"m":"MAI.","p":"WD_WRF_HY","id":"a","c":"p50","z":1,"x":10.9,"y":1},{"m":"MAI.","p":"WD_WRF_HY","id":"a","c":"p50","z":1,"x":9.9,"y":0.91},{"m":"MAI.","p":"WD_WRF_HY","id":"a","c":"p50","z":1,"x":9.5,"y":0.82},{"m":"MAI.","p":"WD_WRF_HY","id":"a","c":"p50","z":1,"x":10.7,"y":0.75},{"m":"MAI.","p":"WD_WRF_HY","id":"a","c":"p50","z":1,"x":10.3,"y":0.7},{"m":"MAI.","p":"WD_WRF_HY","id":"a","c":"p50","z":1,"x":10.9,"y":0.58},{"m":"MAI.","p":"WD_WRF_HY","id":"a","c":"p50","z":1,"x":11.5,"y":0.49},{"m":"MAI.","p":"WD_WRF_HY","id":"a","c":"p50","z":1,"x":12.2,"y":0.4},{"m":"MAI.","p":"WD_WRF_HY","id":"a","c":"p50","z":1,"x":12.3,"y":0.31},{"m":"MAI.","p":"WD_WRF_HY","id":"a","c":"p50","z":1,"x":11.7,"y":0.26},{"m":"MAI.","p":"WD_WRF_HY","id":"a","c":"p50","z":1,"x":12.3,"y":0.22},{"m":"MAI.","p":"WD_WRF_HY","id":"a","c":"p50","z":1,"x":12.1,"y":0.155},{"m":"MAI.","p":"WD_WRF_HY","id":"a","c":"p50","z":1,"x":10.9,"y":0.07},
{"m":"MAI.","p":"WD_WRF_HY","id":"b","c":"p0","z":1,"x":21.0,"y":0.5},{"m":"MAI.","p":"WD_WRF_HY","id":"b","c":"p0","z":1,"x":21.3,"y":0.53},{"m":"MAI.","p":"WD_WRF_HY","id":"b","c":"p0","z":1,"x":21.2,"y":0.58},{"m":"MAI.","p":"WD_WRF_HY","id":"b","c":"p0","z":1,"x":21.8,"y":0.67},{"m":"MAI.","p":"WD_WRF_HY","id":"b","c":"p0","z":1,"x":22.0,"y":0.76},{"m":"MAI.","p":"WD_WRF_HY","id":"b","c":"p0","z":1,"x":22.4,"y":0.88},{"m":"MAI.","p":"WD_WRF_HY","id":"b","c":"p0","z":1,"x":22.8,"y":1},{"m":"MAI.","p":"WD_WRF_HY","id":"b","c":"p0","z":1,"x":19.2,"y":1},{"m":"MAI.","p":"WD_WRF_HY","id":"b","c":"p0","z":1,"x":19.2,"y":0.92},{"m":"MAI.","p":"WD_WRF_HY","id":"b","c":"p0","z":1,"x":19.6,"y":0.74},{"m":"MAI.","p":"WD_WRF_HY","id":"b","c":"p0","z":1,"x":20.0,"y":0.67},{"m":"MAI.","p":"WD_WRF_HY","id":"b","c":"p0","z":1,"x":20.6,"y":0.58},{"m":"MAI.","p":"WD_WRF_HY","id":"b","c":"p0","z":1,"x":20.7,"y":0.53},
{"m":"MAI.","p":"WD_WRF_HY","id":"c","c":"p50","z":1,"x":24.8,"y":0.53},{"m":"MAI.","p":"WD_WRF_HY","id":"c","c":"p50","z":1,"x":25.6,"y":0.52},{"m":"MAI.","p":"WD_WRF_HY","id":"c","c":"p50","z":1,"x":27.0,"y":0.55},{"m":"MAI.","p":"WD_WRF_HY","id":"c","c":"p50","z":1,"x":26.6,"y":0.62},{"m":"MAI.","p":"WD_WRF_HY","id":"c","c":"p50","z":1,"x":27.0,"y":0.71},{"m":"MAI.","p":"WD_WRF_HY","id":"c","c":"p50","z":1,"x":27.0,"y":0.81},{"m":"MAI.","p":"WD_WRF_HY","id":"c","c":"p50","z":1,"x":26.6,"y":0.86},{"m":"MAI.","p":"WD_WRF_HY","id":"c","c":"p50","z":1,"x":25.6,"y":0.87},{"m":"MAI.","p":"WD_WRF_HY","id":"c","c":"p50","z":1,"x":25.2,"y":0.79},{"m":"MAI.","p":"WD_WRF_HY","id":"c","c":"p50","z":1,"x":25.0,"y":0.71},{"m":"MAI.","p":"WD_WRF_HY","id":"c","c":"p50","z":1,"x":25.4,"y":0.62},

{"m":"MAI.","p":"WD_WRF_MR","id":"bg","c":"p25","z":0,"x":0,"y":0},{"m":"MAI.","p":"WD_WRF_MR","id":"bg","c":"p25","z":0,"x":29.3,"y":0},{"m":"MAI.","p":"WD_WRF_MR","id":"bg","c":"p25","z":0,"x":29.3,"y":1},{"m":"MAI.","p":"WD_WRF_MR","id":"bg","c":"p25","z":0,"x":0,"y":1},
{"m":"MAI.","p":"WD_WRF_MR","id":"a","c":"p50","z":1,"x":9.7,"y":0},{"m":"MAI.","p":"WD_WRF_MR","id":"a","c":"p50","z":1,"x":16.8,"y":0},{"m":"MAI.","p":"WD_WRF_MR","id":"a","c":"p50","z":1,"x":15.9,"y":0.13},{"m":"MAI.","p":"WD_WRF_MR","id":"a","c":"p50","z":1,"x":15.8,"y":0.24},{"m":"MAI.","p":"WD_WRF_MR","id":"a","c":"p50","z":1,"x":15.6,"y":0.34},{"m":"MAI.","p":"WD_WRF_MR","id":"a","c":"p50","z":1,"x":15.6,"y":1},{"m":"MAI.","p":"WD_WRF_MR","id":"a","c":"p50","z":1,"x":11.7,"y":1},{"m":"MAI.","p":"WD_WRF_MR","id":"a","c":"p50","z":1,"x":11.1,"y":0.94},{"m":"MAI.","p":"WD_WRF_MR","id":"a","c":"p50","z":1,"x":10.7,"y":0.82},{"m":"MAI.","p":"WD_WRF_MR","id":"a","c":"p50","z":1,"x":10.9,"y":0.77},{"m":"MAI.","p":"WD_WRF_MR","id":"a","c":"p50","z":1,"x":10.7,"y":0.7},{"m":"MAI.","p":"WD_WRF_MR","id":"a","c":"p50","z":1,"x":10.7,"y":0.56},{"m":"MAI.","p":"WD_WRF_MR","id":"a","c":"p50","z":1,"x":10.9,"y":0.43},{"m":"MAI.","p":"WD_WRF_MR","id":"a","c":"p50","z":1,"x":10.7,"y":0.31},{"m":"MAI.","p":"WD_WRF_MR","id":"a","c":"p50","z":1,"x":10.9,"y":0.22},{"m":"MAI.","p":"WD_WRF_MR","id":"a","c":"p50","z":1,"x":10.5,"y":0.11},
{"m":"MAI.","p":"WD_WRF_MR","id":"b","c":"p0","z":1,"x":21.1,"y":0.36},{"m":"MAI.","p":"WD_WRF_MR","id":"b","c":"p0","z":1,"x":21.3,"y":0.46},{"m":"MAI.","p":"WD_WRF_MR","id":"b","c":"p0","z":1,"x":22.3,"y":0.53},{"m":"MAI.","p":"WD_WRF_MR","id":"b","c":"p0","z":1,"x":22.5,"y":0.62},{"m":"MAI.","p":"WD_WRF_MR","id":"b","c":"p0","z":1,"x":23.1,"y":0.8},{"m":"MAI.","p":"WD_WRF_MR","id":"b","c":"p0","z":1,"x":23.7,"y":0.92},{"m":"MAI.","p":"WD_WRF_MR","id":"b","c":"p0","z":1,"x":23.9,"y":1},{"m":"MAI.","p":"WD_WRF_MR","id":"b","c":"p0","z":1,"x":18.8,"y":1},{"m":"MAI.","p":"WD_WRF_MR","id":"b","c":"p0","z":1,"x":18.8,"y":0.89},{"m":"MAI.","p":"WD_WRF_MR","id":"b","c":"p0","z":1,"x":19.2,"y":0.71},{"m":"MAI.","p":"WD_WRF_MR","id":"b","c":"p0","z":1,"x":19.8,"y":0.62},{"m":"MAI.","p":"WD_WRF_MR","id":"b","c":"p0","z":1,"x":20.0,"y":0.53},{"m":"MAI.","p":"WD_WRF_MR","id":"b","c":"p0","z":1,"x":20.9,"y":0.46},
{"m":"MAI.","p":"WD_WRF_MR","id":"c","c":"p50","z":1,"x":25.4,"y":0.55},{"m":"MAI.","p":"WD_WRF_MR","id":"c","c":"p50","z":1,"x":26.1,"y":0.55},{"m":"MAI.","p":"WD_WRF_MR","id":"c","c":"p50","z":1,"x":25.8,"y":0.6},
{"m":"MAI.","p":"WD_WRF_MR","id":"d","c":"p50","z":1,"x":25.6,"y":0.7},{"m":"MAI.","p":"WD_WRF_MR","id":"d","c":"p50","z":1,"x":26.0,"y":0.72},{"m":"MAI.","p":"WD_WRF_MR","id":"d","c":"p50","z":1,"x":25.6,"y":0.74},

{"m":"JUN.","p":"NO_WD","id":"bg","c":"p50","z":0,"x":0,"y":0},{"m":"JUN.","p":"NO_WD","id":"bg","c":"p50","z":0,"x":29.3,"y":0},{"m":"JUN.","p":"NO_WD","id":"bg","c":"p50","z":0,"x":29.3,"y":1},{"m":"JUN.","p":"NO_WD","id":"bg","c":"p50","z":0,"x":0,"y":1},
{"m":"JUN.","p":"NO_WD","id":"a","c":"p100","z":1,"x":5.0,"y":0},{"m":"JUN.","p":"NO_WD","id":"a","c":"p100","z":1,"x":8.6,"y":0},{"m":"JUN.","p":"NO_WD","id":"a","c":"p100","z":1,"x":10.4,"y":0.03},{"m":"JUN.","p":"NO_WD","id":"a","c":"p100","z":1,"x":13.1,"y":0.06},{"m":"JUN.","p":"NO_WD","id":"a","c":"p100","z":1,"x":14.9,"y":0.08},{"m":"JUN.","p":"NO_WD","id":"a","c":"p100","z":1,"x":15.5,"y":0.17},{"m":"JUN.","p":"NO_WD","id":"a","c":"p100","z":1,"x":16.0,"y":0.24},{"m":"JUN.","p":"NO_WD","id":"a","c":"p100","z":1,"x":16.9,"y":0.32},{"m":"JUN.","p":"NO_WD","id":"a","c":"p100","z":1,"x":17.6,"y":0.37},{"m":"JUN.","p":"NO_WD","id":"a","c":"p100","z":1,"x":17.3,"y":0.42},{"m":"JUN.","p":"NO_WD","id":"a","c":"p100","z":1,"x":16.7,"y":0.47},{"m":"JUN.","p":"NO_WD","id":"a","c":"p100","z":1,"x":16.4,"y":0.55},{"m":"JUN.","p":"NO_WD","id":"a","c":"p100","z":1,"x":16.7,"y":0.65},{"m":"JUN.","p":"NO_WD","id":"a","c":"p100","z":1,"x":17.3,"y":0.74},{"m":"JUN.","p":"NO_WD","id":"a","c":"p100","z":1,"x":18.0,"y":0.82},{"m":"JUN.","p":"NO_WD","id":"a","c":"p100","z":1,"x":18.7,"y":0.87},{"m":"JUN.","p":"NO_WD","id":"a","c":"p100","z":1,"x":19.6,"y":0.92},{"m":"JUN.","p":"NO_WD","id":"a","c":"p100","z":1,"x":20.0,"y":0.96},{"m":"JUN.","p":"NO_WD","id":"a","c":"p100","z":1,"x":20.9,"y":1},{"m":"JUN.","p":"NO_WD","id":"a","c":"p100","z":1,"x":12.6,"y":1},{"m":"JUN.","p":"NO_WD","id":"a","c":"p100","z":1,"x":12.4,"y":0.93},{"m":"JUN.","p":"NO_WD","id":"a","c":"p100","z":1,"x":11.3,"y":0.89},{"m":"JUN.","p":"NO_WD","id":"a","c":"p100","z":1,"x":9.2,"y":0.84},{"m":"JUN.","p":"NO_WD","id":"a","c":"p100","z":1,"x":8.6,"y":0.82},{"m":"JUN.","p":"NO_WD","id":"a","c":"p100","z":1,"x":8.3,"y":0.74},{"m":"JUN.","p":"NO_WD","id":"a","c":"p100","z":1,"x":7.9,"y":0.69},{"m":"JUN.","p":"NO_WD","id":"a","c":"p100","z":1,"x":7.0,"y":0.65},{"m":"JUN.","p":"NO_WD","id":"a","c":"p100","z":1,"x":5.9,"y":0.56},{"m":"JUN.","p":"NO_WD","id":"a","c":"p100","z":1,"x":5.0,"y":0.51},{"m":"JUN.","p":"NO_WD","id":"a","c":"p100","z":1,"x":3.8,"y":0.42},{"m":"JUN.","p":"NO_WD","id":"a","c":"p100","z":1,"x":2.7,"y":0.31},{"m":"JUN.","p":"NO_WD","id":"a","c":"p100","z":1,"x":3.2,"y":0.28},{"m":"JUN.","p":"NO_WD","id":"a","c":"p100","z":1,"x":2.9,"y":0.26},{"m":"JUN.","p":"NO_WD","id":"a","c":"p100","z":1,"x":1.6,"y":0.2},{"m":"JUN.","p":"NO_WD","id":"a","c":"p100","z":1,"x":1.1,"y":0.15},{"m":"JUN.","p":"NO_WD","id":"a","c":"p100","z":1,"x":3.2,"y":0.04},
{"m":"JUN.","p":"NO_WD","id":"b","c":"p25","z":1,"x":25.3,"y":0},{"m":"JUN.","p":"NO_WD","id":"b","c":"p25","z":1,"x":26.1,"y":0},{"m":"JUN.","p":"NO_WD","id":"b","c":"p25","z":1,"x":25.7,"y":0.025},

{"m":"JUN.","p":"WD_CFSR_HY","id":"bg","c":"p50","z":0,"x":0,"y":0},{"m":"JUN.","p":"WD_CFSR_HY","id":"bg","c":"p50","z":0,"x":29.3,"y":0},{"m":"JUN.","p":"WD_CFSR_HY","id":"bg","c":"p50","z":0,"x":29.3,"y":1},{"m":"JUN.","p":"WD_CFSR_HY","id":"bg","c":"p50","z":0,"x":0,"y":1},
{"m":"JUN.","p":"WD_CFSR_HY","id":"a","c":"p100","z":1,"x":14.5,"y":0.15},{"m":"JUN.","p":"WD_CFSR_HY","id":"a","c":"p100","z":1,"x":17.0,"y":0.23},{"m":"JUN.","p":"WD_CFSR_HY","id":"a","c":"p100","z":1,"x":17.2,"y":0.3},{"m":"JUN.","p":"WD_CFSR_HY","id":"a","c":"p100","z":1,"x":19.2,"y":0.4},{"m":"JUN.","p":"WD_CFSR_HY","id":"a","c":"p100","z":1,"x":16.3,"y":0.47},{"m":"JUN.","p":"WD_CFSR_HY","id":"a","c":"p100","z":1,"x":14.7,"y":0.52},{"m":"JUN.","p":"WD_CFSR_HY","id":"a","c":"p100","z":1,"x":13.3,"y":0.46},{"m":"JUN.","p":"WD_CFSR_HY","id":"a","c":"p100","z":1,"x":12.9,"y":0.37},{"m":"JUN.","p":"WD_CFSR_HY","id":"a","c":"p100","z":1,"x":13.1,"y":0.31},{"m":"JUN.","p":"WD_CFSR_HY","id":"a","c":"p100","z":1,"x":13.8,"y":0.18},
{"m":"JUN.","p":"WD_CFSR_HY","id":"b","c":"p25","z":1,"x":0,"y":0.6},{"m":"JUN.","p":"WD_CFSR_HY","id":"b","c":"p25","z":1,"x":0.4,"y":0.7},{"m":"JUN.","p":"WD_CFSR_HY","id":"b","c":"p25","z":1,"x":0.5,"y":1},{"m":"JUN.","p":"WD_CFSR_HY","id":"b","c":"p25","z":1,"x":0,"y":1},
{"m":"JUN.","p":"WD_CFSR_HY","id":"c","c":"p25","z":1,"x":24.9,"y":0},{"m":"JUN.","p":"WD_CFSR_HY","id":"c","c":"p25","z":1,"x":26.3,"y":0},{"m":"JUN.","p":"WD_CFSR_HY","id":"c","c":"p25","z":1,"x":25.6,"y":0.03},

{"m":"JUN.","p":"WD_WRF_HY","id":"bg","c":"p25","z":0,"x":0,"y":0},{"m":"JUN.","p":"WD_WRF_HY","id":"bg","c":"p25","z":0,"x":29.3,"y":0},{"m":"JUN.","p":"WD_WRF_HY","id":"bg","c":"p25","z":0,"x":29.3,"y":1},{"m":"JUN.","p":"WD_WRF_HY","id":"bg","c":"p25","z":0,"x":0,"y":1},
{"m":"JUN.","p":"WD_WRF_HY","id":"a","c":"p0","z":1,"x":20.8,"y":0},{"m":"JUN.","p":"WD_WRF_HY","id":"a","c":"p0","z":1,"x":27.6,"y":0},{"m":"JUN.","p":"WD_WRF_HY","id":"a","c":"p0","z":1,"x":27.0,"y":0.06},{"m":"JUN.","p":"WD_WRF_HY","id":"a","c":"p0","z":1,"x":26.6,"y":0.15},{"m":"JUN.","p":"WD_WRF_HY","id":"a","c":"p0","z":1,"x":26.4,"y":0.24},{"m":"JUN.","p":"WD_WRF_HY","id":"a","c":"p0","z":1,"x":25.6,"y":0.3},{"m":"JUN.","p":"WD_WRF_HY","id":"a","c":"p0","z":1,"x":24.8,"y":0.24},{"m":"JUN.","p":"WD_WRF_HY","id":"a","c":"p0","z":1,"x":23.6,"y":0.17},{"m":"JUN.","p":"WD_WRF_HY","id":"a","c":"p0","z":1,"x":22.4,"y":0.08},
{"m":"JUN.","p":"WD_WRF_HY","id":"b","c":"p0","z":1,"x":25.6,"y":0.66},{"m":"JUN.","p":"WD_WRF_HY","id":"b","c":"p0","z":1,"x":25.9,"y":0.72},{"m":"JUN.","p":"WD_WRF_HY","id":"b","c":"p0","z":1,"x":25.9,"y":0.85},{"m":"JUN.","p":"WD_WRF_HY","id":"b","c":"p0","z":1,"x":25.8,"y":0.98},{"m":"JUN.","p":"WD_WRF_HY","id":"b","c":"p0","z":1,"x":25.6,"y":0.98},{"m":"JUN.","p":"WD_WRF_HY","id":"b","c":"p0","z":1,"x":25.4,"y":0.85},{"m":"JUN.","p":"WD_WRF_HY","id":"b","c":"p0","z":1,"x":25.4,"y":0.72},

{"m":"JUN.","p":"WD_WRF_MR","id":"bg","c":"p25","z":0,"x":0,"y":0},{"m":"JUN.","p":"WD_WRF_MR","id":"bg","c":"p25","z":0,"x":29.3,"y":0},{"m":"JUN.","p":"WD_WRF_MR","id":"bg","c":"p25","z":0,"x":29.3,"y":1},{"m":"JUN.","p":"WD_WRF_MR","id":"bg","c":"p25","z":0,"x":0,"y":1},
{"m":"JUN.","p":"WD_WRF_MR","id":"a","c":"p0","z":1,"x":20.2,"y":0},{"m":"JUN.","p":"WD_WRF_MR","id":"a","c":"p0","z":1,"x":27.9,"y":0},{"m":"JUN.","p":"WD_WRF_MR","id":"a","c":"p0","z":1,"x":26.9,"y":0.08},{"m":"JUN.","p":"WD_WRF_MR","id":"a","c":"p0","z":1,"x":26.7,"y":0.19},{"m":"JUN.","p":"WD_WRF_MR","id":"a","c":"p0","z":1,"x":26.3,"y":0.29},{"m":"JUN.","p":"WD_WRF_MR","id":"a","c":"p0","z":1,"x":25.5,"y":0.32},{"m":"JUN.","p":"WD_WRF_MR","id":"a","c":"p0","z":1,"x":24.7,"y":0.28},{"m":"JUN.","p":"WD_WRF_MR","id":"a","c":"p0","z":1,"x":23.1,"y":0.19},{"m":"JUN.","p":"WD_WRF_MR","id":"a","c":"p0","z":1,"x":21.9,"y":0.06},
{"m":"JUN.","p":"WD_WRF_MR","id":"b","c":"p0","z":1,"x":25.8,"y":0.45},{"m":"JUN.","p":"WD_WRF_MR","id":"b","c":"p0","z":1,"x":26.0,"y":0.5},{"m":"JUN.","p":"WD_WRF_MR","id":"b","c":"p0","z":1,"x":25.8,"y":0.56},{"m":"JUN.","p":"WD_WRF_MR","id":"b","c":"p0","z":1,"x":26.0,"y":0.65},{"m":"JUN.","p":"WD_WRF_MR","id":"b","c":"p0","z":1,"x":26.0,"y":0.85},{"m":"JUN.","p":"WD_WRF_MR","id":"b","c":"p0","z":1,"x":25.8,"y":0.99},{"m":"JUN.","p":"WD_WRF_MR","id":"b","c":"p0","z":1,"x":25.5,"y":0.99},{"m":"JUN.","p":"WD_WRF_MR","id":"b","c":"p0","z":1,"x":25.4,"y":0.85},{"m":"JUN.","p":"WD_WRF_MR","id":"b","c":"p0","z":1,"x":25.5,"y":0.7},{"m":"JUN.","p":"WD_WRF_MR","id":"b","c":"p0","z":1,"x":25.6,"y":0.6},{"m":"JUN.","p":"WD_WRF_MR","id":"b","c":"p0","z":1,"x":25.7,"y":0.5},
{"m":"JUN.","p":"WD_WRF_MR","id":"c","c":"p50","z":1,"x":6.9,"y":0.67},{"m":"JUN.","p":"WD_WRF_MR","id":"c","c":"p50","z":1,"x":7.2,"y":0.78},{"m":"JUN.","p":"WD_WRF_MR","id":"c","c":"p50","z":1,"x":7.3,"y":1},{"m":"JUN.","p":"WD_WRF_MR","id":"c","c":"p50","z":1,"x":6.4,"y":1},{"m":"JUN.","p":"WD_WRF_MR","id":"c","c":"p50","z":1,"x":6.5,"y":0.78},
{"m":"JUN.","p":"WD_WRF_MR","id":"d","c":"p50","z":1,"x":6.6,"y":0.32},{"m":"JUN.","p":"WD_WRF_MR","id":"d","c":"p50","z":1,"x":7.1,"y":0.32},{"m":"JUN.","p":"WD_WRF_MR","id":"d","c":"p50","z":1,"x":6.9,"y":0.36},
{"m":"JUN.","p":"WD_WRF_MR","id":"e","c":"p50","z":1,"x":6.8,"y":0.38},{"m":"JUN.","p":"WD_WRF_MR","id":"e","c":"p50","z":1,"x":7.0,"y":0.4},{"m":"JUN.","p":"WD_WRF_MR","id":"e","c":"p50","z":1,"x":6.9,"y":0.43},

{"m":"JUL.","p":"NO_WD","id":"bg","c":"p50","z":0,"x":0,"y":0},{"m":"JUL.","p":"NO_WD","id":"bg","c":"p50","z":0,"x":29.3,"y":0},{"m":"JUL.","p":"NO_WD","id":"bg","c":"p50","z":0,"x":29.3,"y":1},{"m":"JUL.","p":"NO_WD","id":"bg","c":"p50","z":0,"x":0,"y":1},
{"m":"JUL.","p":"NO_WD","id":"a","c":"p25","z":1,"x":0,"y":0.16},{"m":"JUL.","p":"NO_WD","id":"a","c":"p25","z":1,"x":0.8,"y":0.2},{"m":"JUL.","p":"NO_WD","id":"a","c":"p25","z":1,"x":1.1,"y":0.24},{"m":"JUL.","p":"NO_WD","id":"a","c":"p25","z":1,"x":1.35,"y":0.44},{"m":"JUL.","p":"NO_WD","id":"a","c":"p25","z":1,"x":1.8,"y":0.6},{"m":"JUL.","p":"NO_WD","id":"a","c":"p25","z":1,"x":2.7,"y":0.8},{"m":"JUL.","p":"NO_WD","id":"a","c":"p25","z":1,"x":3.4,"y":0.87},{"m":"JUL.","p":"NO_WD","id":"a","c":"p25","z":1,"x":3.7,"y":1},{"m":"JUL.","p":"NO_WD","id":"a","c":"p25","z":1,"x":0,"y":1},
{"m":"JUL.","p":"NO_WD","id":"b","c":"p25","z":1,"x":25.8,"y":0},{"m":"JUL.","p":"NO_WD","id":"b","c":"p25","z":1,"x":29.3,"y":0},{"m":"JUL.","p":"NO_WD","id":"b","c":"p25","z":1,"x":29.3,"y":0.48},{"m":"JUL.","p":"NO_WD","id":"b","c":"p25","z":1,"x":28.4,"y":0.42},{"m":"JUL.","p":"NO_WD","id":"b","c":"p25","z":1,"x":27.6,"y":0.31},{"m":"JUL.","p":"NO_WD","id":"b","c":"p25","z":1,"x":27.3,"y":0.2},{"m":"JUL.","p":"NO_WD","id":"b","c":"p25","z":1,"x":25.8,"y":0.15},
{"m":"JUL.","p":"NO_WD","id":"c","c":"p25","z":1,"x":20.0,"y":0},{"m":"JUL.","p":"NO_WD","id":"c","c":"p25","z":1,"x":25.6,"y":0},{"m":"JUL.","p":"NO_WD","id":"c","c":"p25","z":1,"x":21.5,"y":0.02},
{"m":"JUL.","p":"NO_WD","id":"d","c":"p0","z":2,"x":27.6,"y":0},{"m":"JUL.","p":"NO_WD","id":"d","c":"p0","z":2,"x":29.3,"y":0},{"m":"JUL.","p":"NO_WD","id":"d","c":"p0","z":2,"x":29.3,"y":0.05},

{"m":"JUL.","p":"WD_CFSR_HY","id":"bg","c":"p50","z":0,"x":0,"y":0},{"m":"JUL.","p":"WD_CFSR_HY","id":"bg","c":"p50","z":0,"x":29.3,"y":0},{"m":"JUL.","p":"WD_CFSR_HY","id":"bg","c":"p50","z":0,"x":29.3,"y":1},{"m":"JUL.","p":"WD_CFSR_HY","id":"bg","c":"p50","z":0,"x":0,"y":1},
{"m":"JUL.","p":"WD_CFSR_HY","id":"a","c":"p25","z":1,"x":0,"y":0},{"m":"JUL.","p":"WD_CFSR_HY","id":"a","c":"p25","z":1,"x":0.2,"y":0},{"m":"JUL.","p":"WD_CFSR_HY","id":"a","c":"p25","z":1,"x":0.45,"y":0.1},{"m":"JUL.","p":"WD_CFSR_HY","id":"a","c":"p25","z":1,"x":1.4,"y":0.19},{"m":"JUL.","p":"WD_CFSR_HY","id":"a","c":"p25","z":1,"x":1.8,"y":0.24},{"m":"JUL.","p":"WD_CFSR_HY","id":"a","c":"p25","z":1,"x":2.3,"y":0.42},{"m":"JUL.","p":"WD_CFSR_HY","id":"a","c":"p25","z":1,"x":2.9,"y":0.6},{"m":"JUL.","p":"WD_CFSR_HY","id":"a","c":"p25","z":1,"x":3.6,"y":0.78},{"m":"JUL.","p":"WD_CFSR_HY","id":"a","c":"p25","z":1,"x":4.3,"y":0.87},{"m":"JUL.","p":"WD_CFSR_HY","id":"a","c":"p25","z":1,"x":4.7,"y":1},{"m":"JUL.","p":"WD_CFSR_HY","id":"a","c":"p25","z":1,"x":0,"y":1},
{"m":"JUL.","p":"WD_CFSR_HY","id":"b","c":"p25","z":1,"x":22.4,"y":0},{"m":"JUL.","p":"WD_CFSR_HY","id":"b","c":"p25","z":1,"x":29.3,"y":0},{"m":"JUL.","p":"WD_CFSR_HY","id":"b","c":"p25","z":1,"x":29.3,"y":1},{"m":"JUL.","p":"WD_CFSR_HY","id":"b","c":"p25","z":1,"x":27.7,"y":1},{"m":"JUL.","p":"WD_CFSR_HY","id":"b","c":"p25","z":1,"x":27.5,"y":0.78},{"m":"JUL.","p":"WD_CFSR_HY","id":"b","c":"p25","z":1,"x":27.4,"y":0.51},{"m":"JUL.","p":"WD_CFSR_HY","id":"b","c":"p25","z":1,"x":27.1,"y":0.24},{"m":"JUL.","p":"WD_CFSR_HY","id":"b","c":"p25","z":1,"x":26.7,"y":0.1},{"m":"JUL.","p":"WD_CFSR_HY","id":"b","c":"p25","z":1,"x":22.7,"y":0.07},

{"m":"JUL.","p":"WD_WRF_HY","id":"bg","c":"p0","z":0,"x":0,"y":0},{"m":"JUL.","p":"WD_WRF_HY","id":"bg","c":"p0","z":0,"x":29.3,"y":0},{"m":"JUL.","p":"WD_WRF_HY","id":"bg","c":"p0","z":0,"x":29.3,"y":1},{"m":"JUL.","p":"WD_WRF_HY","id":"bg","c":"p0","z":0,"x":0,"y":1},
{"m":"JUL.","p":"WD_WRF_HY","id":"a","c":"p25","z":1,"x":0,"y":0},{"m":"JUL.","p":"WD_WRF_HY","id":"a","c":"p25","z":1,"x":14.2,"y":0},{"m":"JUL.","p":"WD_WRF_HY","id":"a","c":"p25","z":1,"x":14.3,"y":0.15},{"m":"JUL.","p":"WD_WRF_HY","id":"a","c":"p25","z":1,"x":14.6,"y":0.33},{"m":"JUL.","p":"WD_WRF_HY","id":"a","c":"p25","z":1,"x":14.7,"y":0.65},{"m":"JUL.","p":"WD_WRF_HY","id":"a","c":"p25","z":1,"x":13.5,"y":0.74},{"m":"JUL.","p":"WD_WRF_HY","id":"a","c":"p25","z":1,"x":9.9,"y":0.81},{"m":"JUL.","p":"WD_WRF_HY","id":"a","c":"p25","z":1,"x":6.9,"y":0.86},{"m":"JUL.","p":"WD_WRF_HY","id":"a","c":"p25","z":1,"x":5.0,"y":0.8},{"m":"JUL.","p":"WD_WRF_HY","id":"a","c":"p25","z":1,"x":4.2,"y":0.74},{"m":"JUL.","p":"WD_WRF_HY","id":"a","c":"p25","z":1,"x":3.4,"y":0.6},{"m":"JUL.","p":"WD_WRF_HY","id":"a","c":"p25","z":1,"x":3.0,"y":0.49},{"m":"JUL.","p":"WD_WRF_HY","id":"a","c":"p25","z":1,"x":2.1,"y":0.4},{"m":"JUL.","p":"WD_WRF_HY","id":"a","c":"p25","z":1,"x":2.0,"y":0.24},{"m":"JUL.","p":"WD_WRF_HY","id":"a","c":"p25","z":1,"x":1.0,"y":0.2},{"m":"JUL.","p":"WD_WRF_HY","id":"a","c":"p25","z":1,"x":0,"y":0.15},
{"m":"JUL.","p":"WD_WRF_HY","id":"b","c":"n25","z":1,"x":19.4,"y":0},{"m":"JUL.","p":"WD_WRF_HY","id":"b","c":"n25","z":1,"x":29.3,"y":0},{"m":"JUL.","p":"WD_WRF_HY","id":"b","c":"n25","z":1,"x":29.3,"y":0.08},{"m":"JUL.","p":"WD_WRF_HY","id":"b","c":"n25","z":1,"x":27.6,"y":0.1},{"m":"JUL.","p":"WD_WRF_HY","id":"b","c":"n25","z":1,"x":26.4,"y":0.2},{"m":"JUL.","p":"WD_WRF_HY","id":"b","c":"n25","z":1,"x":25.6,"y":0.37},{"m":"JUL.","p":"WD_WRF_HY","id":"b","c":"n25","z":1,"x":24.2,"y":0.38},{"m":"JUL.","p":"WD_WRF_HY","id":"b","c":"n25","z":1,"x":23.8,"y":0.33},{"m":"JUL.","p":"WD_WRF_HY","id":"b","c":"n25","z":1,"x":23.0,"y":0.12},{"m":"JUL.","p":"WD_WRF_HY","id":"b","c":"n25","z":1,"x":20.4,"y":0.06},

{"m":"JUL.","p":"WD_WRF_MR","id":"bg","c":"p0","z":0,"x":0,"y":0},{"m":"JUL.","p":"WD_WRF_MR","id":"bg","c":"p0","z":0,"x":29.3,"y":0},{"m":"JUL.","p":"WD_WRF_MR","id":"bg","c":"p0","z":0,"x":29.3,"y":1},{"m":"JUL.","p":"WD_WRF_MR","id":"bg","c":"p0","z":0,"x":0,"y":1},
{"m":"JUL.","p":"WD_WRF_MR","id":"a","c":"p25","z":1,"x":0,"y":0},{"m":"JUL.","p":"WD_WRF_MR","id":"a","c":"p25","z":1,"x":14.8,"y":0},{"m":"JUL.","p":"WD_WRF_MR","id":"a","c":"p25","z":1,"x":15.0,"y":0.15},{"m":"JUL.","p":"WD_WRF_MR","id":"a","c":"p25","z":1,"x":15.3,"y":0.65},{"m":"JUL.","p":"WD_WRF_MR","id":"a","c":"p25","z":1,"x":14.8,"y":0.76},{"m":"JUL.","p":"WD_WRF_MR","id":"a","c":"p25","z":1,"x":6.9,"y":0.79},{"m":"JUL.","p":"WD_WRF_MR","id":"a","c":"p25","z":1,"x":6.1,"y":0.72},{"m":"JUL.","p":"WD_WRF_MR","id":"a","c":"p25","z":1,"x":4.9,"y":0.6},{"m":"JUL.","p":"WD_WRF_MR","id":"a","c":"p25","z":1,"x":4.7,"y":0.49},{"m":"JUL.","p":"WD_WRF_MR","id":"a","c":"p25","z":1,"x":2.8,"y":0.4},{"m":"JUL.","p":"WD_WRF_MR","id":"a","c":"p25","z":1,"x":2.6,"y":0.22},{"m":"JUL.","p":"WD_WRF_MR","id":"a","c":"p25","z":1,"x":1.2,"y":0.16},{"m":"JUL.","p":"WD_WRF_MR","id":"a","c":"p25","z":1,"x":0,"y":0.1},
{"m":"JUL.","p":"WD_WRF_MR","id":"b","c":"n25","z":1,"x":19.0,"y":0},{"m":"JUL.","p":"WD_WRF_MR","id":"b","c":"n25","z":1,"x":29.3,"y":0},{"m":"JUL.","p":"WD_WRF_MR","id":"b","c":"n25","z":1,"x":29.3,"y":0.07},{"m":"JUL.","p":"WD_WRF_MR","id":"b","c":"n25","z":1,"x":27.3,"y":0.15},{"m":"JUL.","p":"WD_WRF_MR","id":"b","c":"n25","z":1,"x":26.3,"y":0.3},{"m":"JUL.","p":"WD_WRF_MR","id":"b","c":"n25","z":1,"x":25.5,"y":0.4},{"m":"JUL.","p":"WD_WRF_MR","id":"b","c":"n25","z":1,"x":25.1,"y":0.36},{"m":"JUL.","p":"WD_WRF_MR","id":"b","c":"n25","z":1,"x":23.9,"y":0.24},{"m":"JUL.","p":"WD_WRF_MR","id":"b","c":"n25","z":1,"x":21.9,"y":0.13},{"m":"JUL.","p":"WD_WRF_MR","id":"b","c":"n25","z":1,"x":19.8,"y":0.07}
],
"bar":[{"a":0,"b":1,"c":"n180"},{"a":1,"b":2,"c":"n100"},{"a":2,"b":3,"c":"n50"},{"a":3,"b":4,"c":"n25"},{"a":4,"b":5,"c":"p0"},{"a":5,"b":6,"c":"p25"},{"a":6,"b":7,"c":"p50"},{"a":7,"b":8,"c":"p100"}],
"frame":[{"a":0,"b":8}]
},
"spacing":16,
"vconcat":[
{"spacing":3.5,"vconcat":[
{"data":{"name":"d"},"transform":[{"filter":"datum.m==='MAR.'"}],
"title":{"text":"MAR.","subtitle":"Profundidade Adimensional","orient":"left","anchor":"middle","font":"Liberation Sans","fontSize":20,"fontWeight":"bold","color":"#000","subtitleFont":"DejaVu Sans","subtitleFontSize":11,"subtitleColor":"#222","subtitlePadding":8,"offset":0},
"facet":{"column":{"field":"p","type":"nominal","sort":["NO_WD","WD_CFSR_HY","WD_WRF_HY","WD_WRF_MR"],"title":null,"header":{"labelFont":"Liberation Sans","labelFontSize":19,"labelFontWeight":"bold","labelColor":"#000","labelPadding":4,"labelExpr":"datum.label + '\u00a0\u00a0\u00a0'"}}},
"spacing":23.3,"bounds":"flush","resolve":{"axis":{"y":"independent","x":"independent"}},
"spec":{"width":244,"height":184,
"encoding":{"x":{"field":"x","type":"quantitative","scale":{"domain":[0,29.3],"nice":false,"zero":false},"axis":{"values":[0,5,10,15,20,25],"title":null,"format":"d"}},
"y":{"field":"y","type":"quantitative","scale":{"domain":[0.013,1],"nice":false,"zero":false,"reverse":true},"axis":{"values":[0.2,0.4,0.6,0.8,1.0],"format":".1f","title":null}},
"color":{"field":"c","type":"nominal","scale":{"domain":["n180","n100","n50","n25","p0","p25","p50","p100"],"range":["#b51f2e","#ef9a78","#fad3bf","#f8ebe5","#e7eef3","#d0e3ef","#8ac0dd","#2667ac"]},"legend":null},
"detail":{"field":"id"},"order":{"value":null}},
"layer":[
{"transform":[{"filter":"datum.z===0"}],"mark":{"type":"line","filled":true,"interpolate":"linear-closed","clip":true,"strokeWidth":0}},
{"transform":[{"filter":"datum.z===1"}],"mark":{"type":"line","filled":true,"interpolate":"linear-closed","clip":true,"strokeWidth":0}},
{"transform":[{"filter":"datum.z===2"}],"mark":{"type":"line","filled":true,"interpolate":"linear-closed","clip":true,"strokeWidth":0}}
]}},
{"data":{"name":"d"},"transform":[{"filter":"datum.m==='ABR.'"}],
"title":{"text":"ABR.","subtitle":"Profundidade Adimensional","orient":"left","anchor":"middle","font":"Liberation Sans","fontSize":20,"fontWeight":"bold","color":"#000","subtitleFont":"DejaVu Sans","subtitleFontSize":11,"subtitleColor":"#222","subtitlePadding":8,"offset":0},
"facet":{"column":{"field":"p","type":"nominal","sort":["NO_WD","WD_CFSR_HY","WD_WRF_HY","WD_WRF_MR"],"title":null,"header":{"labels":false}}},
"spacing":23.3,"bounds":"flush","resolve":{"axis":{"y":"independent","x":"independent"}},
"spec":{"width":244,"height":184,
"encoding":{"x":{"field":"x","type":"quantitative","scale":{"domain":[0,29.3],"nice":false,"zero":false},"axis":{"values":[0,5,10,15,20,25],"title":null,"format":"d"}},
"y":{"field":"y","type":"quantitative","scale":{"domain":[0.013,1],"nice":false,"zero":false,"reverse":true},"axis":{"values":[0.2,0.4,0.6,0.8,1.0],"format":".1f","title":null}},
"color":{"field":"c","type":"nominal","scale":{"domain":["n180","n100","n50","n25","p0","p25","p50","p100"],"range":["#b51f2e","#ef9a78","#fad3bf","#f8ebe5","#e7eef3","#d0e3ef","#8ac0dd","#2667ac"]},"legend":null},
"detail":{"field":"id"},"order":{"value":null}},
"layer":[
{"transform":[{"filter":"datum.z===0"}],"mark":{"type":"line","filled":true,"interpolate":"linear-closed","clip":true,"strokeWidth":0}},
{"transform":[{"filter":"datum.z===1"}],"mark":{"type":"line","filled":true,"interpolate":"linear-closed","clip":true,"strokeWidth":0}},
{"transform":[{"filter":"datum.z===2"}],"mark":{"type":"line","filled":true,"interpolate":"linear-closed","clip":true,"strokeWidth":0}}
]}},
{"data":{"name":"d"},"transform":[{"filter":"datum.m==='MAI.'"}],
"title":{"text":"MAI.","subtitle":"Profundidade Adimensional","orient":"left","anchor":"middle","font":"Liberation Sans","fontSize":20,"fontWeight":"bold","color":"#000","subtitleFont":"DejaVu Sans","subtitleFontSize":11,"subtitleColor":"#222","subtitlePadding":8,"offset":0},
"facet":{"column":{"field":"p","type":"nominal","sort":["NO_WD","WD_CFSR_HY","WD_WRF_HY","WD_WRF_MR"],"title":null,"header":{"labels":false}}},
"spacing":23.3,"bounds":"flush","resolve":{"axis":{"y":"independent","x":"independent"}},
"spec":{"width":244,"height":184,
"encoding":{"x":{"field":"x","type":"quantitative","scale":{"domain":[0,29.3],"nice":false,"zero":false},"axis":{"values":[0,5,10,15,20,25],"title":null,"format":"d"}},
"y":{"field":"y","type":"quantitative","scale":{"domain":[0.013,1],"nice":false,"zero":false,"reverse":true},"axis":{"values":[0.2,0.4,0.6,0.8,1.0],"format":".1f","title":null}},
"color":{"field":"c","type":"nominal","scale":{"domain":["n180","n100","n50","n25","p0","p25","p50","p100"],"range":["#b51f2e","#ef9a78","#fad3bf","#f8ebe5","#e7eef3","#d0e3ef","#8ac0dd","#2667ac"]},"legend":null},
"detail":{"field":"id"},"order":{"value":null}},
"layer":[
{"transform":[{"filter":"datum.z===0"}],"mark":{"type":"line","filled":true,"interpolate":"linear-closed","clip":true,"strokeWidth":0}},
{"transform":[{"filter":"datum.z===1"}],"mark":{"type":"line","filled":true,"interpolate":"linear-closed","clip":true,"strokeWidth":0}},
{"transform":[{"filter":"datum.z===2"}],"mark":{"type":"line","filled":true,"interpolate":"linear-closed","clip":true,"strokeWidth":0}}
]}},
{"data":{"name":"d"},"transform":[{"filter":"datum.m==='JUN.'"}],
"title":{"text":"JUN.","subtitle":"Profundidade Adimensional","orient":"left","anchor":"middle","font":"Liberation Sans","fontSize":20,"fontWeight":"bold","color":"#000","subtitleFont":"DejaVu Sans","subtitleFontSize":11,"subtitleColor":"#222","subtitlePadding":8,"offset":0},
"facet":{"column":{"field":"p","type":"nominal","sort":["NO_WD","WD_CFSR_HY","WD_WRF_HY","WD_WRF_MR"],"title":null,"header":{"labels":false}}},
"spacing":23.3,"bounds":"flush","resolve":{"axis":{"y":"independent","x":"independent"}},
"spec":{"width":244,"height":184,
"encoding":{"x":{"field":"x","type":"quantitative","scale":{"domain":[0,29.3],"nice":false,"zero":false},"axis":{"values":[0,5,10,15,20,25],"title":null,"format":"d"}},
"y":{"field":"y","type":"quantitative","scale":{"domain":[0.013,1],"nice":false,"zero":false,"reverse":true},"axis":{"values":[0.2,0.4,0.6,0.8,1.0],"format":".1f","title":null}},
"color":{"field":"c","type":"nominal","scale":{"domain":["n180","n100","n50","n25","p0","p25","p50","p100"],"range":["#b51f2e","#ef9a78","#fad3bf","#f8ebe5","#e7eef3","#d0e3ef","#8ac0dd","#2667ac"]},"legend":null},
"detail":{"field":"id"},"order":{"value":null}},
"layer":[
{"transform":[{"filter":"datum.z===0"}],"mark":{"type":"line","filled":true,"interpolate":"linear-closed","clip":true,"strokeWidth":0}},
{"transform":[{"filter":"datum.z===1"}],"mark":{"type":"line","filled":true,"interpolate":"linear-closed","clip":true,"strokeWidth":0}},
{"transform":[{"filter":"datum.z===2"}],"mark":{"type":"line","filled":true,"interpolate":"linear-closed","clip":true,"strokeWidth":0}}
]}},
{"data":{"name":"d"},"transform":[{"filter":"datum.m==='JUL.'"}],
"title":{"text":"JUL.","subtitle":"Profundidade Adimensional","orient":"left","anchor":"middle","font":"Liberation Sans","fontSize":20,"fontWeight":"bold","color":"#000","subtitleFont":"DejaVu Sans","subtitleFontSize":11,"subtitleColor":"#222","subtitlePadding":8,"offset":0},
"facet":{"column":{"field":"p","type":"nominal","sort":["NO_WD","WD_CFSR_HY","WD_WRF_HY","WD_WRF_MR"],"title":null,"header":{"labels":false}}},
"spacing":23.3,"bounds":"flush","resolve":{"axis":{"y":"independent","x":"independent"}},
"spec":{"width":244,"height":184,
"encoding":{"x":{"field":"x","type":"quantitative","scale":{"domain":[0,29.3],"nice":false,"zero":false},"axis":{"values":[0,5,10,15,20,25],"title":"Distância (Km)","format":"d"}},
"y":{"field":"y","type":"quantitative","scale":{"domain":[0.013,1],"nice":false,"zero":false,"reverse":true},"axis":{"values":[0.2,0.4,0.6,0.8,1.0],"format":".1f","title":null}},
"color":{"field":"c","type":"nominal","scale":{"domain":["n180","n100","n50","n25","p0","p25","p50","p100"],"range":["#b51f2e","#ef9a78","#fad3bf","#f8ebe5","#e7eef3","#d0e3ef","#8ac0dd","#2667ac"]},"legend":null},
"detail":{"field":"id"},"order":{"value":null}},
"layer":[
{"transform":[{"filter":"datum.z===0"}],"mark":{"type":"line","filled":true,"interpolate":"linear-closed","clip":true,"strokeWidth":0}},
{"transform":[{"filter":"datum.z===1"}],"mark":{"type":"line","filled":true,"interpolate":"linear-closed","clip":true,"strokeWidth":0}},
{"transform":[{"filter":"datum.z===2"}],"mark":{"type":"line","filled":true,"interpolate":"linear-closed","clip":true,"strokeWidth":0}}
]}}
]},
{"width":1000,"height":23,"view":{"stroke":null},
"layer":[
{"data":{"name":"bar"},"mark":{"type":"rect"},
"encoding":{"x":{"field":"a","type":"quantitative","scale":{"domain":[-5.175,12.369],"nice":false,"zero":false},"axis":{"values":[0,1,2,3,4,5,6,7,8],"labelExpr":"['−1.80','−1.00','−0.50','−0.25','0.00','0.25','0.50','1.00','1.80'][datum.value]","domain":false,"tickSize":4,"tickColor":"#000","labelFontSize":14,"labelColor":"#000","labelPadding":1,"title":"Viés (°C)","titleFontSize":15,"titleColor":"#000","titlePadding":1}},
"x2":{"field":"b"},
"color":{"field":"c","type":"nominal","scale":{"domain":["n180","n100","n50","n25","p0","p25","p50","p100"],"range":["#b51f2e","#ef9a78","#fad3bf","#f8ebe5","#e7eef3","#d0e3ef","#8ac0dd","#2667ac"]},"legend":null}}},
{"data":{"name":"frame"},"mark":{"type":"rect","fillOpacity":0,"stroke":"#333","strokeWidth":0.8},
"encoding":{"x":{"field":"a","type":"quantitative"},"x2":{"field":"b"}}}
]}
]
}
